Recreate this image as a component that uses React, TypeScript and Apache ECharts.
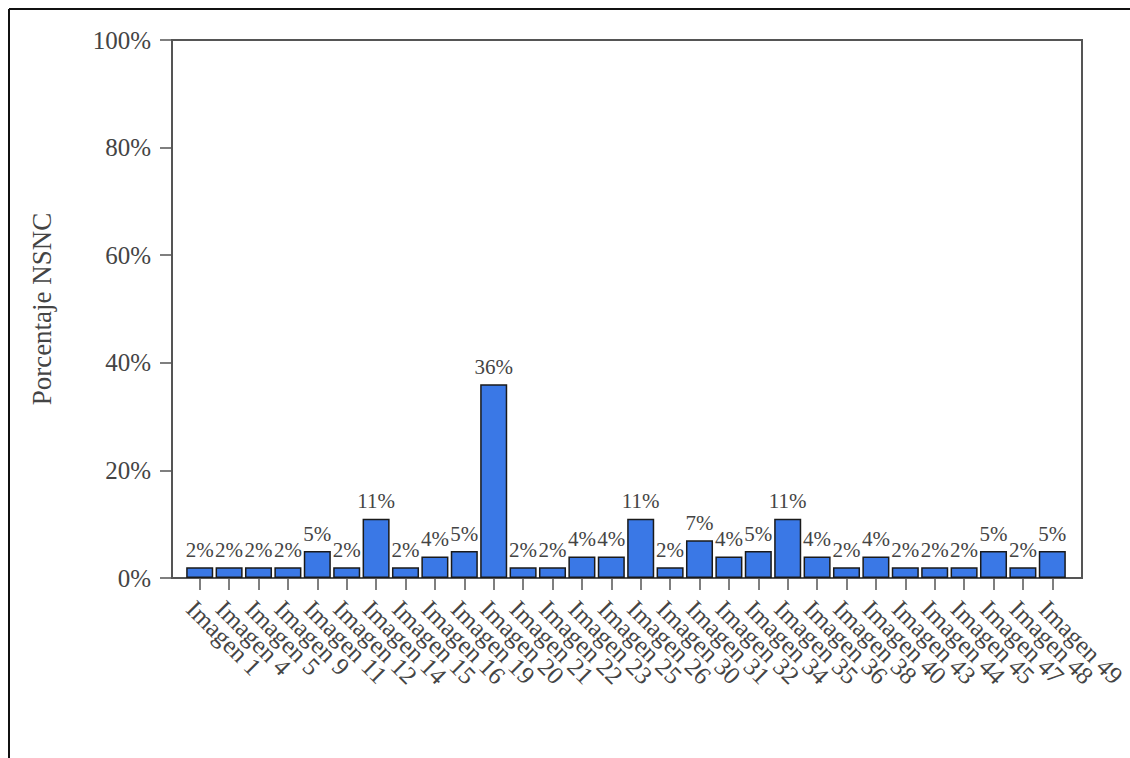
import React, { useEffect, useRef } from "react";
import * as echarts from "echarts";

const categories = [
  "Imagen 1", "Imagen 4", "Imagen 5", "Imagen 9", "Imagen 11", "Imagen 12",
  "Imagen 14", "Imagen 15", "Imagen 16", "Imagen 19", "Imagen 20", "Imagen 21",
  "Imagen 22", "Imagen 23", "Imagen 25", "Imagen 26", "Imagen 30", "Imagen 31",
  "Imagen 32", "Imagen 34", "Imagen 35", "Imagen 36", "Imagen 38", "Imagen 40",
  "Imagen 43", "Imagen 44", "Imagen 45", "Imagen 47", "Imagen 48", "Imagen 49",
];

const values = [
  2, 2, 2, 2, 5, 2,
  11, 2, 4, 5, 36, 2,
  2, 4, 4, 11, 2, 7,
  4, 5, 11, 4, 2, 4,
  2, 2, 2, 5, 2, 5,
];

const yTicks = [0, 20, 40, 60, 80, 100];

const FONT = "'Liberation Serif', 'DejaVu Serif', serif";
const TEXT = "#444444";
const AXIS = "#555555";

export default function App() {
  const ref = useRef<HTMLDivElement>(null);

  useEffect(() => {
    if (!ref.current) return;
    const chart = echarts.init(ref.current, undefined, { renderer: "svg" });
    const plotLeft = 172;
    const plotRight = 1082;
    const plotTop = 40;
    const plotBottom = 578;
    chart.setOption({
      animation: false,
      backgroundColor: "#ffffff",
      grid: {
        left: 185,
        right: 1130 - 1067,
        top: plotTop,
        bottom: 758 - plotBottom,
        containLabel: false,
      },
      xAxis: {
        type: "category",
        data: categories,
        boundaryGap: true,
        axisLine: { show: false },
        axisTick: {
          show: true,
          alignWithLabel: true,
          length: 12,
          lineStyle: { color: AXIS, width: 1.5 },
        },
        axisLabel: {
          interval: 0,
          rotate: -45,
          margin: 18,
          fontFamily: FONT,
          fontSize: 25,
          color: TEXT,
          verticalAlign: "top",
        },
      },
      yAxis: {
        type: "value",
        min: yTicks[0],
        max: yTicks[yTicks.length - 1],
        interval: 20,
        offset: 13,
        name: "Porcentaje NSNC",
        nameLocation: "middle",
        nameGap: 117,
        nameTextStyle: { fontFamily: FONT, fontSize: 27, color: TEXT },
        axisLine: { show: true, lineStyle: { color: AXIS, width: 2 } },
        axisTick: { show: true, length: 12, lineStyle: { color: AXIS, width: 1.5 } },
        splitLine: { show: false },
        axisLabel: {
          fontFamily: FONT,
          fontSize: 25,
          color: TEXT,
          margin: 21,
          formatter: (v: number) => `${v}%`,
        },
      },
      graphic: [
        {
          type: "rect",
          shape: {
            x: plotLeft,
            y: plotTop,
            width: plotRight - plotLeft,
            height: plotBottom - plotTop,
          },
          style: { fill: "none", stroke: AXIS, lineWidth: 2 },
          z: 0,
          silent: true,
        },
        {
          type: "line",
          shape: { x1: 9, y1: 9, x2: 1130, y2: 9 },
          style: { stroke: "#111111", lineWidth: 2 },
        },
        {
          type: "line",
          shape: { x1: 9, y1: 9, x2: 9, y2: 758 },
          style: { stroke: "#111111", lineWidth: 2 },
        },
      ],
      series: [
        {
          type: "bar",
          data: values,
          barCategoryGap: "8%",
          itemStyle: {
            color: "#3a78e6",
            borderColor: "#1a1a1a",
            borderWidth: 1.5,
          },
          label: {
            show: true,
            position: "top",
            distance: 7,
            fontFamily: FONT,
            fontSize: 21,
            color: TEXT,
            formatter: (p: any) => `${p.value}%`,
          },
        },
      ],
    });
    return () => chart.dispose();
  }, []);

  return (
    <div
      ref={ref}
      style={{ position: "absolute", left: 0, top: 0, width: 1130, height: 758 }}
    />
  );
}
